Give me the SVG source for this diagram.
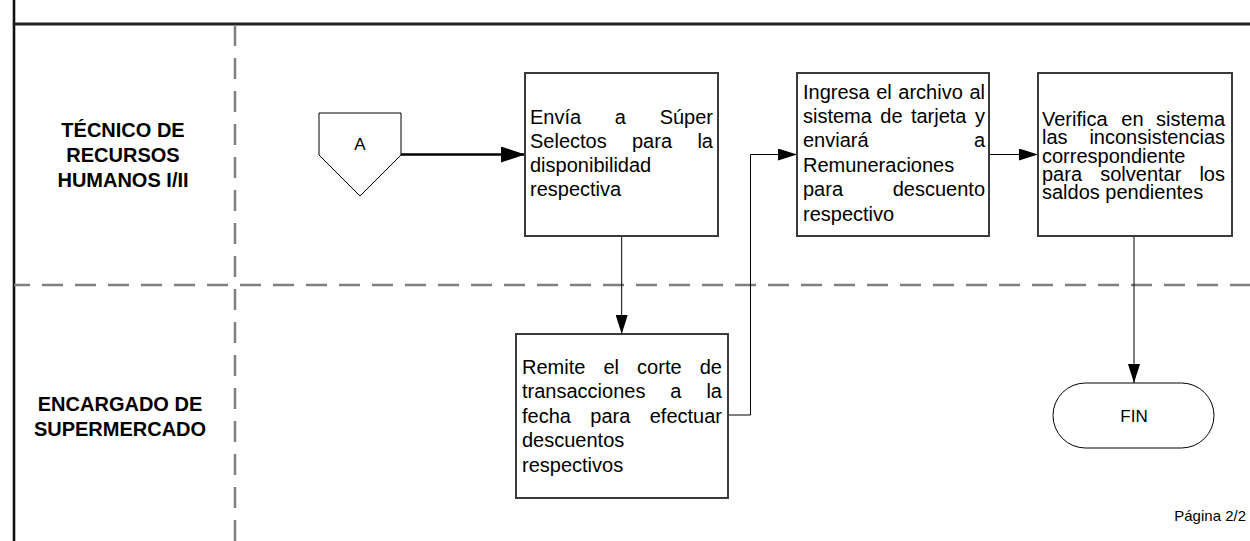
<svg xmlns="http://www.w3.org/2000/svg" width="1250" height="541" viewBox="0 0 1250 541">
<style>
.t{font-family:"Liberation Sans",Arial,sans-serif;font-size:20px;fill:#000}
.lane{font-family:"Liberation Sans",Arial,sans-serif;font-size:20px;font-weight:bold;fill:#000;text-anchor:middle}
.small{font-family:"Liberation Sans",Arial,sans-serif;font-size:17px;fill:#000;text-anchor:middle}
.box{fill:#fff;stroke:#3a3a3a;stroke-width:2}
.shape{fill:#fff;stroke:#000;stroke-width:1}
.dash{fill:none;stroke:#808080;stroke-width:2.5;stroke-dasharray:21 12}
.conn{fill:none;stroke:#000;stroke-width:1}
.e{text-anchor:end}
</style>
<defs>
<marker id="ah" markerUnits="userSpaceOnUse" markerWidth="19" markerHeight="12" refX="19" refY="6" orient="auto">
<path d="M0,0 L19,6 L0,12 Z" fill="#000"/>
</marker>
<marker id="ahb" markerUnits="userSpaceOnUse" markerWidth="24" markerHeight="16" refX="24" refY="8" orient="auto">
<path d="M0,0 L24,8 L0,16 Z" fill="#000"/>
</marker>
</defs>
<rect x="0" y="0" width="1250" height="541" fill="#fff"/>
<g id="frame">
<line x1="14" y1="0" x2="14" y2="541" stroke="#111" stroke-width="2.6"/>
<line x1="14" y1="24" x2="1250" y2="24" stroke="#222" stroke-width="3"/>
<line x1="14" y1="285" x2="1250" y2="285" class="dash" stroke-dashoffset="5"/>
<line x1="235" y1="26" x2="235" y2="541" class="dash" stroke-dashoffset="1"/>
</g>
<g id="lane-tecnico">
<text class="lane" x="123" y="136.5">TÉCNICO DE</text>
<text class="lane" x="123" y="161.5">RECURSOS</text>
<text class="lane" x="123" y="186.5">HUMANOS I/II</text>
</g>
<g id="lane-encargado">
<text class="lane" x="120" y="410.5">ENCARGADO DE</text>
<text class="lane" x="120" y="435.5">SUPERMERCADO</text>
</g>
<g id="connectors">
<line x1="401" y1="154.5" x2="525" y2="154.5" stroke="#000" stroke-width="2.6" marker-end="url(#ahb)"/>
<line x1="621.7" y1="236" x2="621.7" y2="334" class="conn" marker-end="url(#ah)"/>
<polyline points="728,415 750.5,415 750.5,154.5 797,154.5" class="conn" marker-end="url(#ah)"/>
<line x1="989" y1="154.5" x2="1038" y2="154.5" class="conn" marker-end="url(#ah)"/>
<line x1="1134" y1="236" x2="1134" y2="383" class="conn" marker-end="url(#ah)"/>
</g>
<g id="node-A">
<polygon class="shape" points="319,113 401,113 401,155 360,196 319,155"/>
<text class="small" x="360" y="150">A</text>
</g>
<g id="node-envia">
<rect class="box" x="525" y="73" width="193" height="163"/>
<text class="t" x="530" y="124">Envía</text>
<text class="t" x="614.8" y="124">a</text>
<text class="t e" x="713" y="124">Súper</text>
<text class="t" x="530" y="148">Selectos</text>
<text class="t" x="632" y="148">para</text>
<text class="t e" x="713" y="148">la</text>
<text class="t" x="530" y="172">disponibilidad</text>
<text class="t" x="530" y="196">respectiva</text>
</g>
<g id="node-ingresa">
<rect class="box" x="797" y="73" width="192" height="163"/>
<text class="t" x="803" y="98.5">Ingresa</text>
<text class="t" x="876.2" y="98.5">el</text>
<text class="t" x="898.3" y="98.5">archivo</text>
<text class="t e" x="985" y="98.5">al</text>
<text class="t" x="803" y="122.9">sistema</text>
<text class="t" x="880.3" y="122.9">de</text>
<text class="t" x="910.9" y="122.9">tarjeta</text>
<text class="t e" x="985" y="122.9">y</text>
<text class="t" x="803" y="147.3">enviará</text>
<text class="t e" x="985" y="147.3">a</text>
<text class="t" x="803" y="171.7">Remuneraciones</text>
<text class="t" x="803" y="196.1">para</text>
<text class="t e" x="985" y="196.1">descuento</text>
<text class="t" x="803" y="220.5">respectivo</text>
</g>
<g id="node-verifica">
<rect class="box" x="1038" y="73" width="194" height="163"/>
<text class="t" x="1042" y="126">Verifica</text>
<text class="t" x="1121.3" y="126">en</text>
<text class="t e" x="1225" y="126">sistema</text>
<text class="t" x="1042" y="144.3">las</text>
<text class="t e" x="1225" y="144.3">inconsistencias</text>
<text class="t" x="1042" y="162.6">correspondiente</text>
<text class="t" x="1042" y="180.9">para</text>
<text class="t" x="1100.2" y="180.9">solventar</text>
<text class="t e" x="1225" y="180.9">los</text>
<text class="t" x="1042" y="199.2">saldos pendientes</text>
</g>
<g id="node-remite">
<rect class="box" x="516" y="334" width="212" height="164"/>
<text class="t" x="522" y="373.5">Remite</text>
<text class="t" x="603.4" y="373.5">el</text>
<text class="t" x="637.1" y="373.5">corte</text>
<text class="t e" x="722" y="373.5">de</text>
<text class="t" x="522" y="398">transacciones</text>
<text class="t" x="670.3" y="398">a</text>
<text class="t e" x="722" y="398">la</text>
<text class="t" x="522" y="422.5">fecha</text>
<text class="t" x="590.3" y="422.5">para</text>
<text class="t e" x="722" y="422.5">efectuar</text>
<text class="t" x="522" y="447">descuentos</text>
<text class="t" x="522" y="471.5">respectivos</text>
</g>
<g id="node-fin">
<rect class="shape" x="1053" y="383" width="161" height="65" rx="32.5" ry="32.5"/>
<text class="small" x="1134" y="421.5">FIN</text>
</g>
<g id="page">
<text x="1246" y="521" font-family="Liberation Sans, Arial, sans-serif" font-size="15" text-anchor="end">Página 2/2</text>
</g>
</svg>
